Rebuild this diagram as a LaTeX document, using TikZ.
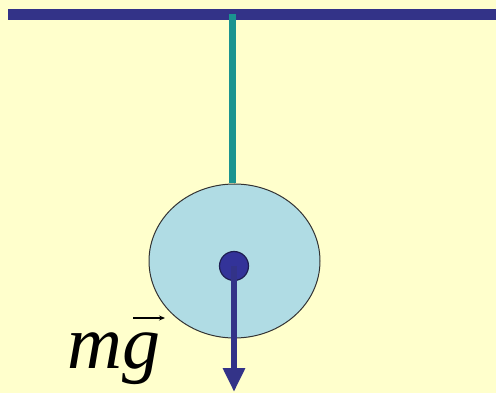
\documentclass[tikz,border=0pt]{standalone}
\usepackage{fontspec}
\setmainfont{Liberation Serif}
\usetikzlibrary{arrows.meta,shapes.geometric}
\definecolor{bg}{HTML}{FFFFCC}
\definecolor{navy}{HTML}{333388}
\definecolor{teal2}{HTML}{1A9490}
\definecolor{disk}{HTML}{B0DCE4}
\definecolor{dotc}{HTML}{333399}
\begin{document}
\begin{tikzpicture}[x=1pt,y=-1pt,
  bar/.style={line width=10.5pt,draw=navy},
  rope/.style={line width=7pt,draw=teal2},
  force/.style={line width=6.5pt,draw=navy,-{Triangle[length=24pt,width=21pt]}},
  vecarrow/.style={line width=1.6pt,-{Stealth[length=6pt,width=5pt]}}]
\fill[bg] (0,0) rectangle (496,393);
\useasboundingbox (0,0) rectangle (496,393);
\coordinate (barL) at (8,14.5);
\coordinate (barR) at (496,14.5);
\draw[bar] (barL) -- (barR);
\coordinate (hook) at (232,14.5);
\node[draw=black!80,line width=1pt,fill=disk,ellipse,minimum width=171pt,minimum height=154pt,inner sep=0pt] (disk) at (234.5,261) {};
\draw[rope] (hook) -- (disk.north -| hook);
\coordinate (tip) at (234,392);
\node[circle,fill=dotc,draw=navy!60!black,line width=1.2pt,minimum size=29pt,inner sep=0pt] (cm) at (234,266) {};
\draw[force] (cm.center) -- (tip);
\node[font=\fontsize{76}{76}\selectfont\itshape,anchor=base west,inner sep=0pt] (mg) at (67,368) {mg};
\coordinate (va) at (133,318);
\coordinate (vb) at (165,318);
\draw[vecarrow] (va) -- (vb);
\end{tikzpicture}
\end{document}
